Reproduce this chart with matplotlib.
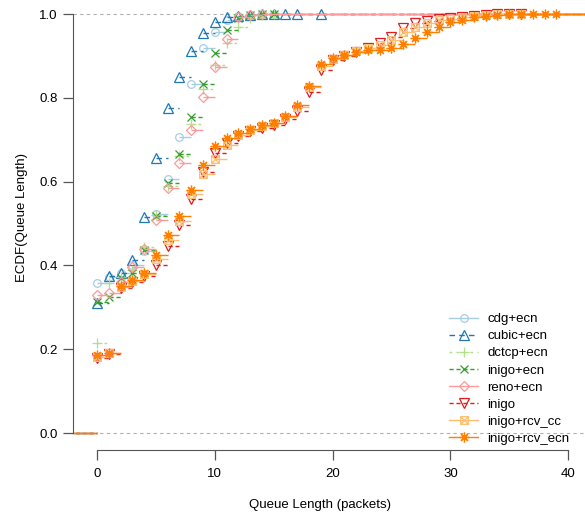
"""ECDF of queue length for several congestion control variants"""

import matplotlib
matplotlib.use('Agg')
import matplotlib.pyplot as plt
from matplotlib.path import Path

plt.rcParams['font.family'] = ['Liberation Sans', 'DejaVu Sans']

# queue lengths (packets) at which the ECDF jumps
qlen = [0, 1, 2, 3, 4, 5, 6, 7, 8, 9, 10, 11, 12, 13, 14, 15, 16, 17, 18, 19,
        20, 21, 22, 23, 24, 25, 26, 27, 28, 29, 30, 31, 32, 33, 34, 35, 36, 37, 38, 39]
cubic_x = [0, 1, 2, 3, 4, 5, 6, 7, 8, 9, 10, 11, 12, 13, 14, 15, 16, 17, 19]

cdg_ecn = [0.358, 0.372, 0.382, 0.400, 0.435, 0.522, 0.607, 0.706, 0.832, 0.920,
           0.958, 0.986, 0.995, 0.998, 0.999, 1.0]
cubic_ecn = [0.310, 0.375, 0.382, 0.412, 0.515, 0.657, 0.776, 0.850, 0.912, 0.955,
             0.980, 0.992, 0.996, 0.998, 0.999, 0.9993, 0.9996, 0.9998, 1.0]
dctcp_ecn = [0.214, 0.358, 0.372, 0.390, 0.445, 0.520, 0.590, 0.660, 0.737, 0.820,
             0.878, 0.930, 0.970, 0.990, 0.997, 1.0]
inigo_ecn = [0.312, 0.325, 0.369, 0.383, 0.437, 0.518, 0.596, 0.665, 0.753, 0.832,
             0.906, 0.962, 0.990, 0.997, 0.999, 1.0]
reno_ecn = [0.329, 0.335, 0.360, 0.395, 0.438, 0.508, 0.584, 0.645, 0.722, 0.803,
            0.873, 0.941, 0.994, 0.998, 1.0]
inigo = [0.180, 0.188, 0.345, 0.360, 0.375, 0.400, 0.447, 0.496, 0.558, 0.624,
         0.669, 0.693, 0.710, 0.720, 0.728, 0.735, 0.750, 0.768, 0.813, 0.866,
         0.890, 0.900, 0.910, 0.920, 0.930, 0.946, 0.967, 0.978, 0.983, 0.988,
         0.991, 0.994, 0.996, 0.998, 0.999, 0.9995, 1.0]
inigo_rcv_cc = [0.182, 0.190, 0.348, 0.363, 0.380, 0.415, 0.460, 0.505, 0.570, 0.617,
                0.655, 0.688, 0.712, 0.724, 0.733, 0.740, 0.755, 0.778, 0.826, 0.877,
                0.893, 0.903, 0.912, 0.918, 0.925, 0.938, 0.957, 0.970, 0.979, 0.985,
                0.989, 0.993, 0.996, 0.998, 0.999, 0.9995, 1.0]
inigo_rcv_ecn = [0.186, 0.191, 0.350, 0.365, 0.383, 0.425, 0.473, 0.518, 0.581, 0.640,
                 0.685, 0.703, 0.715, 0.725, 0.735, 0.741, 0.757, 0.784, 0.829, 0.880,
                 0.896, 0.903, 0.910, 0.913, 0.915, 0.920, 0.928, 0.942, 0.958, 0.968,
                 0.980, 0.986, 0.993, 0.996, 0.998, 0.999, 0.9993, 0.9996, 0.9998, 1.0]

labels = ['cdg+ecn', 'cubic+ecn', 'dctcp+ecn', 'inigo+ecn', 'reno+ecn',
          'inigo', 'inigo+rcv_cc', 'inigo+rcv_ecn']

# R pch 7: square with a cross inside
box_x = Path([(-1, -1), (1, -1), (1, 1), (-1, 1), (-1, -1),
              (-1, -1), (1, 1), (-1, 1), (1, -1)],
             [Path.MOVETO, Path.LINETO, Path.LINETO, Path.LINETO, Path.CLOSEPOLY,
              Path.MOVETO, Path.LINETO, Path.MOVETO, Path.LINETO])

styles = [
    ('#A6CEE3', '-', 'o', 5.5),
    ('#1F78B4', (0, (4, 3)), '^', 6.5),
    ('#B2DF8A', (0, (2, 3)), '+', 7.5),
    ('#33A02C', (0, (3, 2)), 'x', 6),
    ('#FB9A99', '-', 'D', 5.5),
    ('#E31A1C', (0, (3, 2)), 'v', 6.5),
    ('#FDBF6F', '-', box_x, 5.5),
    ('#FF7F00', '-', (8, 2, 0), 7),
]

xs = [qlen, cubic_x, qlen, qlen, qlen, qlen, qlen, qlen]
series = [cdg_ecn, cubic_ecn, dctcp_ecn, inigo_ecn, reno_ecn, inigo,
          inigo_rcv_cc, inigo_rcv_ecn]

fig = plt.figure(figsize=(5.85, 5.17), dpi=100)
ax = fig.add_axes([73 / 585, 67 / 517, 512 / 585, 450 / 517])

x_lo, x_hi = -2.04, 41.43
ax.axhline(0, color='#b0b0b0', lw=0.8, ls=(0, (3, 3)), zorder=0)
ax.axhline(1, color='#b0b0b0', lw=0.8, ls=(0, (3, 3)), zorder=0)

for x, f, lab, (col, ls, mk, ms) in zip(xs, series, labels, styles):
    x = list(x[:len(f)])
    # horizontal steps only, like plot.ecdf(verticals = FALSE)
    starts = [-100] + x
    ends = x + [100]
    levels = [0] + f
    ax.hlines(levels, starts, ends, colors=col, linestyles=[ls], lw=1.0)
    ax.plot(x, f, ls='none', marker=mk, ms=ms, mec=col, mfc='none', mew=0.9)
    ax.plot([], [], color=col, ls=ls, lw=1.0, marker=mk, ms=ms, mec=col,
            mfc='none', mew=0.9, label=lab)

ax.set_xlim(x_lo, x_hi)
ax.set_ylim(-17 / 419, 1 + 14 / 419)

for side in ['top', 'right']:
    ax.spines[side].set_visible(False)
ax.spines['left'].set_bounds(0, 1)
ax.spines['bottom'].set_bounds(0, 40)
ax.spines['left'].set_color('#555555')
ax.spines['bottom'].set_color('#555555')
ax.set_xticks([0, 10, 20, 30, 40])
ax.set_yticks([0, 0.2, 0.4, 0.6, 0.8, 1.0])
ax.set_yticklabels(['0.0', '0.2', '0.4', '0.6', '0.8', '1.0'])
ax.tick_params(axis='both', length=7, width=0.9, color='#555555', labelsize=9.5,
               pad=4)
ax.tick_params(axis='x', pad=6)

fig.text(320 / 585, 1 - 505 / 517, 'Queue Length (packets)', ha='center',
         va='center', fontsize=9.5)
fig.text(22 / 585, 1 - 218 / 517, 'ECDF(Queue Length)', ha='center',
         va='center', rotation=90, fontsize=9.5)

ax.legend(loc='upper left', bbox_to_anchor=(449 / 585, 1 - 313 / 517),
          bbox_transform=fig.transFigure, frameon=False, fontsize=9.5,
          handlelength=2.2, handletextpad=0.7, labelspacing=0.37,
          borderpad=0, borderaxespad=0)

fig.savefig('out.png', dpi=100)
